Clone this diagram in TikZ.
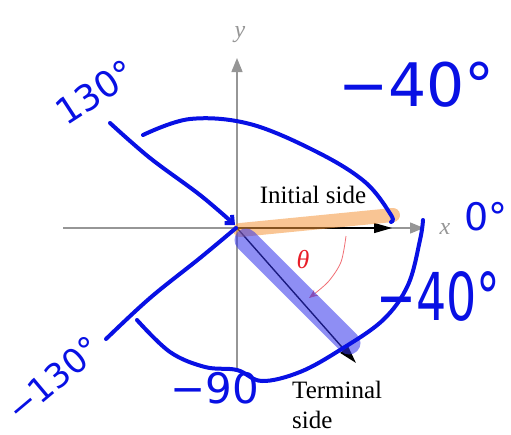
\documentclass[tikz,border=0pt]{standalone}
\usepackage{fontspec}
\setmainfont{Liberation Serif}
\newfontfamily\handfont{DejaVu Sans}
\newfontfamily\handnarrow[FakeStretch=0.72]{DejaVu Sans}
\usetikzlibrary{arrows.meta,positioning}
\definecolor{ink}{RGB}{8,16,228}
\definecolor{axisgray}{RGB}{150,150,150}
\definecolor{hlorange}{RGB}{244,150,60}
\definecolor{hlblue}{RGB}{50,50,235}
\definecolor{thetared}{RGB}{232,30,40}

\begin{document}
\begin{tikzpicture}[x=1pt, y=-1pt,
  axis/.style={draw=axisgray, line width=1.4pt, -{Triangle[length=14pt,width=11pt]}},
  side/.style={draw=black, line width=1.4pt, -{Triangle[length=18pt,width=10pt]}},
  book/.style={font=\fontsize{25}{30}\selectfont, inner sep=0pt},
  axislabel/.style={text=axisgray, font=\fontsize{24}{24}\selectfont\itshape, inner sep=0pt},
  inkline/.style={draw=ink, line width=4pt, line cap=round, line join=round},
  hand/.style={text=ink, inner sep=0pt},
  hilite/.style={line width=#1, line cap=round, opacity=0.55}
]
\useasboundingbox (0,0) rectangle (511,434);

\coordinate (O) at (237,228);
\coordinate (xl) at (63,228);
\coordinate (xr) at (424,228);
\coordinate (yb) at (237,372);
\coordinate (yt) at (237,58);
\coordinate (ini) at (392,228);
\coordinate (ter) at (356,363);

\draw[axis] (xl) -- (xr);
\draw[axis] (yb) -- (yt);
\node[axislabel] (xlab) at (445,229) {x};
\node[axislabel] (ylab) at (240,35) {y};

\draw[side] (O) -- (ini);
\draw[side] (O) -- (ter);
\node[book] (initial) at (313,195) {Initial side};
\node[book, align=left, anchor=north west] (terminal) at (292,381) {Terminal\\side};

\draw[thetared!65, line width=0.8pt, -{Stealth[length=9pt,width=7pt]}]
  plot[smooth] coordinates {(346,236) (341,262) (328,282) (309,298)};
\node[text=thetared, font=\fontsize{26}{26}\selectfont\itshape, inner sep=0pt] (theta) at (303,260) {θ};

% highlighter
\draw[hilite=14pt, draw=hlorange] (240,230) -- (393,215);
\draw[hilite=23pt, draw=hlblue] (246,240) -- (349,343);

% pen strokes
\draw[inkline] plot[smooth, tension=0.6] coordinates {(143,135) (190,119) (250,124) (317,152) (365,182) (391,215) (391,222)};
\draw[inkline, -{Straight Barb[length=6pt,width=11pt]}] plot[smooth, tension=0.6] coordinates {(110,123) (150,158) (200,195) (235,225)};
\draw[inkline] plot[smooth, tension=0.6] coordinates {(236,228) (200,258) (150,298) (106,339)};
\draw[inkline] plot[smooth, tension=0.6] coordinates {(137,320) (170,352) (205,367) (237,370) (262,381) (300,372) (340,350) (383,320) (408,285) (420,240) (423,220)};

\node[hand, font=\handfont\fontsize{60}{60}\selectfont, anchor=base west] (neg40top) at (338,106) {−40°};
\node[hand, font=\handfont\fontsize{38}{38}\selectfont, anchor=base west] (zero) at (464,230) {0°};
\node[hand, font=\handnarrow\fontsize{66}{66}\selectfont, anchor=base west] (neg40right) at (376,320) {−40°};
\node[hand, font=\handfont\fontsize{42}{42}\selectfont] (neg90) at (215,388) {−90};
\node[hand, font=\handfont\fontsize{36}{36}\selectfont, anchor=base west, rotate=33] (pos130) at (66,127) {130°};
\node[hand, font=\handfont\fontsize{34}{34}\selectfont, anchor=base west, rotate=40] (neg130) at (19,424) {−130°};
\end{tikzpicture}
\end{document}
